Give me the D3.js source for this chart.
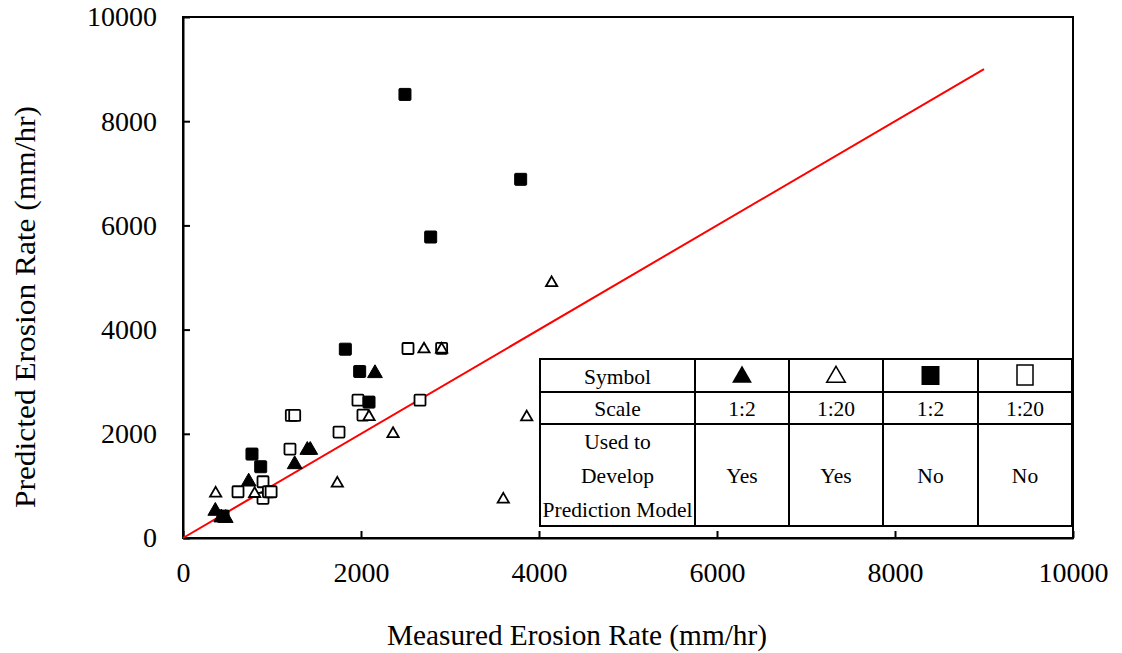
<!DOCTYPE html>
<html>
<head>
<meta charset="utf-8">
<script src="https://cdn.jsdelivr.net/npm/d3@7"></script>
<style>
  body { margin: 0; background: #fff; }
  svg text { font-family: "Liberation Serif", "Times New Roman", serif; fill: #000; }
</style>
</head>
<body>
<svg id="chart" width="1122" height="653"></svg>
<script>
// measured / predicted erosion rate pairs (mm/hr)
var filledTri = [[363,537],[430,410],[480,400],[738,1099],[1255,1432],[1397,1707],[1430,1707],[2157,3180]];
var openTri = [[367,876],[805,869],[1734,1068],[2090,2345],[2360,2019],[2708,3643],[2906,3640],[3599,761],[3862,2340],[4142,4915]];
var filledSq = [[450,420],[775,1611],[873,1368],[1824,3624],[1985,3196],[2090,2608],[2494,8514],[2783,5777],[3794,6884]];
var openSq = [[618,888],[899,1080],[899,761],[960,888],[990,888],[1202,1707],[1217,2353],[1255,2353],[1753,2033],[1966,2646],[2022,2359],[2528,3637],[2663,2646],[2906,3640]];
var xTicks = [0,2000,4000,6000,8000,10000];
var yTicks = [0,2000,4000,6000,8000,10000];
var lineEnd = 9000;

var tableRows = ["Symbol","Scale","Used to\nDevelop\nPrediction Model"];
var scaleLabels = ["1:2","1:20","1:2","1:20"];
var usedLabels = ["Yes","Yes","No","No"];

var svg = d3.select("#chart");
var pl = 183, pr = 1073, pt = 17, pb = 538;

var x = d3.scaleLinear().domain([0,10000]).range([pl,pr]);
var y = d3.scaleLinear().domain([0,10000]).range([pb,pt]);

// frame
svg.append("rect").attr("x",pl).attr("y",pt).attr("width",pr-pl).attr("height",pb-pt)
  .attr("fill","none").attr("stroke","#000").attr("stroke-width",2);

var xAxis = svg.append("g").attr("transform","translate(0,"+pb+")")
  .call(d3.axisBottom(x).tickValues(xTicks).tickFormat(d3.format("d")).tickSizeInner(-7).tickSizeOuter(0).tickPadding(24));
var yAxis = svg.append("g").attr("transform","translate("+pl+",0)")
  .call(d3.axisLeft(y).tickValues(yTicks).tickFormat(d3.format("d")).tickSizeInner(-7).tickSizeOuter(0).tickPadding(26));
[xAxis,yAxis].forEach(function(a){
  a.select(".domain").attr("stroke-width",2);
  a.selectAll(".tick line").attr("stroke-width",2);
  a.selectAll("text").style("font-family","'Liberation Serif', serif").style("font-size","28px");
});

// 1:1 line
svg.append("line").attr("x1",x(0)).attr("y1",y(0)).attr("x2",x(lineEnd)).attr("y2",y(lineEnd))
  .attr("stroke","#ff0000").attr("stroke-width",2);

var tri = d3.symbol().type(d3.symbolTriangle);
function drawTri(data, size, filled) {
  svg.append("g").selectAll("path").data(data).join("path")
    .attr("d", tri.size(size)())
    .attr("transform", function(d){ return "translate("+x(d[0])+","+(y(d[1])+1)+")"; })
    .attr("fill", filled ? "#000" : "#fff").attr("stroke","#000").attr("stroke-width", filled ? 1 : 1.8);
}
function drawSq(data, s, filled) {
  svg.append("g").selectAll("rect").data(data).join("rect")
    .attr("x", function(d){ return x(d[0]) - s/2; })
    .attr("y", function(d){ return y(d[1]) - s/2; })
    .attr("width", s).attr("height", s).attr("rx",1)
    .attr("fill", filled ? "#000" : "#fff").attr("stroke","#000").attr("stroke-width", filled ? 1 : 1.8);
}
drawSq(openSq, 11, false);
drawTri(openTri, 55, false);
drawSq(filledSq, 12, true);
drawTri(filledTri, 95, true);

// table legend
var colX = [540,695,789,883,978,1072];
var rowY = [359,392,424,526];
var tbl = svg.append("g");
tbl.append("rect").attr("x",colX[0]).attr("y",rowY[0]).attr("width",colX[5]-colX[0]).attr("height",rowY[3]-rowY[0])
  .attr("fill","#fff").attr("stroke","#000").attr("stroke-width",2);
colX.slice(1,5).forEach(function(cx){
  tbl.append("line").attr("x1",cx).attr("x2",cx).attr("y1",rowY[0]).attr("y2",rowY[3]).attr("stroke","#000").attr("stroke-width",2);
});
rowY.slice(1,3).forEach(function(ry){
  tbl.append("line").attr("x1",colX[0]).attr("x2",colX[5]).attr("y1",ry).attr("y2",ry).attr("stroke","#000").attr("stroke-width",2);
});
var cmid = function(i){ return (colX[i]+colX[i+1])/2; };
var fs = "21.5px";
tbl.append("text").attr("x",cmid(0)).attr("y",384).attr("text-anchor","middle").style("font-size",fs).text(tableRows[0]);
tbl.append("text").attr("x",cmid(0)).attr("y",416).attr("text-anchor","middle").style("font-size",fs).text(tableRows[1]);
tableRows[2].split("\n").forEach(function(t,i){
  tbl.append("text").attr("x",cmid(0)).attr("y",449+i*34).attr("text-anchor","middle").style("font-size",fs).text(t);
});
scaleLabels.forEach(function(t,i){
  tbl.append("text").attr("x",cmid(i+1)).attr("y",416).attr("text-anchor","middle").style("font-size",fs).text(t);
});
usedLabels.forEach(function(t,i){
  tbl.append("text").attr("x",cmid(i+1)).attr("y",483).attr("text-anchor","middle").style("font-size",fs).text(t);
});
// legend symbols
tbl.append("path").attr("d", tri.size(170)()).attr("transform","translate("+cmid(1)+",377)").attr("fill","#000");
tbl.append("path").attr("d", tri.size(150)()).attr("transform","translate("+cmid(2)+",377)").attr("fill","#fff").attr("stroke","#000").attr("stroke-width",1.5);
tbl.append("rect").attr("x",cmid(3)-9).attr("y",366).attr("width",18).attr("height",19).attr("fill","#000");
tbl.append("rect").attr("x",cmid(4)-8).attr("y",365).attr("width",16).attr("height",20).attr("fill","#fff").attr("stroke","#000").attr("stroke-width",1.5);

// axis titles
svg.append("text").attr("x",577).attr("y",645).attr("text-anchor","middle").style("font-size","29px")
  .attr("textLength",380).attr("lengthAdjust","spacingAndGlyphs").text("Measured Erosion Rate (mm/hr)");
svg.append("text").attr("transform","translate(35,307) rotate(-90)").attr("text-anchor","middle").style("font-size","29px")
  .attr("textLength",402).attr("lengthAdjust","spacingAndGlyphs").text("Predicted Erosion Rate (mm/hr)");
</script>
</body>
</html>
